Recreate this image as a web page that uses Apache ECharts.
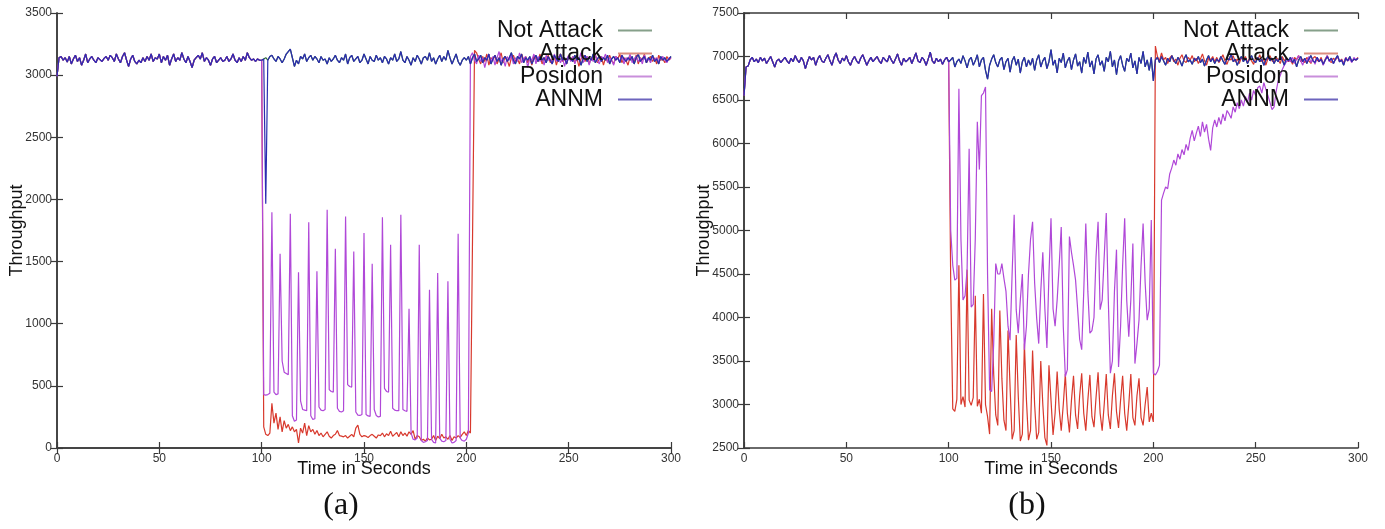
<!DOCTYPE html>
<html>
<head>
<meta charset="utf-8">
<script src="https://cdn.jsdelivr.net/npm/echarts@6/dist/echarts.min.js"></script>
<style>
  html, body { margin: 0; padding: 0; background: #ffffff; }
  #chart { width: 1385px; height: 529px; }
</style>
</head>
<body>
<div id="chart"></div>
<script>
// Throughput over time (one sample per second, t = 0..300)
const seriesNames = ['Not Attack', 'Attack', 'Posidon', 'ANNM'];
const xRange = { min: 0, max: 300, step: 50 };
const yRangeA = { min: 0, max: 3500, step: 500 };
const yRangeB = { min: 2500, max: 7500, step: 500 };
const captions = ['(a)', '(b)'];

// ---- panel (a) ----
// normal traffic, t = 0..300
const notAttackA = [
  2990,3140,3150,3120,3140,3105,3150,3090,3130,3160,3110,3140,3080,3120,3170,3100,3130,3150,3120,3100,
  3140,3125,3110,3135,3150,3120,3160,3140,3110,3170,3130,3100,3150,3180,3120,3070,3130,3160,3110,3090,
  3120,3100,3140,3110,3150,3120,3170,3110,3140,3130,3170,3100,3150,3120,3160,3080,3130,3170,3110,3140,
  3120,3180,3130,3100,3150,3110,3060,3120,3140,3160,3130,3180,3110,3140,3120,3080,3130,3150,3100,3120,
  3140,3110,3120,3150,3110,3130,3170,3120,3100,3140,3110,3150,3120,3180,3140,3120,3130,3110,3130,3120,
  3120,3130,3140,3120,3150,3160,3130,3110,3150,3130,3100,3130,3170,3190,3210,3140,3070,3120,3090,3150,
  3130,3170,3110,3140,3160,3120,3150,3130,3100,3150,3120,3130,3090,3140,3110,3130,3160,3120,3100,3140,
  3120,3170,3090,3140,3160,3110,3130,3150,3100,3120,3170,3130,3090,3150,3120,3110,3160,3120,3140,3100,
  3150,3130,3090,3140,3120,3170,3110,3130,3190,3120,3100,3150,3120,3080,3140,3110,3160,3130,3090,3140,
  3150,3120,3180,3110,3140,3090,3130,3160,3110,3150,3120,3200,3140,3090,3130,3170,3110,3080,3120,3140,
  3120,3150,3090,3140,3170,3110,3130,3160,3100,3140,3120,3170,3090,3130,3160,3110,3140,3080,3130,3150,
  3110,3140,3180,3120,3090,3150,3130,3170,3100,3140,3120,3150,3090,3130,3160,3110,3150,3120,3140,3100,
  3150,3120,3090,3160,3130,3110,3170,3120,3140,3090,3150,3130,3110,3160,3120,3140,3080,3130,3160,3110,
  3140,3120,3170,3100,3130,3150,3110,3140,3120,3160,3090,3130,3150,3120,3140,3100,3160,3130,3110,3140,
  3120,3150,3090,3140,3170,3110,3130,3150,3100,3140,3120,3160,3110,3130,3090,3150,3120,3140,3110,3130,
  3150
];
// attack traffic from t = 101
const attackA = [
  170,110,100,120,360,200,280,150,250,130,220,160,190,140,170,130,150,40,160,120,
  200,100,180,130,150,110,140,100,120,90,110,130,95,80,100,110,140,100,95,90,
  100,80,95,110,90,160,185,110,90,100,95,85,100,110,95,80,105,100,120,90,
  115,100,135,95,110,125,90,130,100,120,95,130,110,140,70,100,90,60,70,55,
  80,65,70,100,60,95,75,110,80,90,70,100,60,90,80,100,85,110,130,100,
  140,120,1650,
  3200,3180,3130,3090,3150,3110,3170,3080,3140,3120,3160,3090,3130,3180,3100,3150,3120,3070,3140,3160,
  3110,3130,3090,3170,3120,3150,3100,3140,3080,3160,3130,3110,3170,3090,3140,3120,3160,3100,3130,3150,
  3080,3140,3170,3110,3130,3090,3160,3120,3150,3100,3140,3070,3130,3160,3110,3150,3090,3140,3120,3170,
  3100,3130,3150,3080,3140,3110,3160,3120,3090,3150,3130,3170,3100,3140,3120,3080,3150,3130,3110,3160,
  3090,3140,3120,3170,3100,3130,3150,3110,3140,3090,3160,3120,3130,3100,3150,3120,3140
];
// Posidon defence from t = 101
const posidonA = [
  430,425,430,440,1897,450,430,435,1563,700,610,600,590,1884,260,215,225,1415,380,310,
  305,300,1817,260,230,235,1423,330,305,300,310,1916,470,455,450,1603,320,295,290,300,
  1862,510,495,490,1581,290,265,262,270,1729,270,258,255,1483,310,262,250,255,1857,480,
  455,450,1635,320,305,300,300,1876,310,300,295,1121,120,70,65,80,1635,60,45,50,
  60,1274,70,45,40,1408,80,55,50,60,1341,70,40,45,60,1723,80,60,55,70,
  120,
  3150,3180,3120,3090,3160,3110,3140,3060,3130,3170,3100,3150,3080,3140,3190,3110,3130,3070,3150,3120,
  3160,3090,3140,3110,3180,3100,3130,3150,3060,3140,3120,3170,3090,3150,3110,3140,3080,3160,3120,3130,
  3090,3170,3110,3150,3100,3140,3070,3130,3160,3110,3150,3090,3140,3120,3180,3100,3130,3150,3080,3140,
  3110,3160,3120,3090,3150,3130,3170,3100,3140,3120,3080,3150,3130,3110,3160,3090,3140,3120,3170,3100,
  3130,3150,3110,3140,3090,3160,3120,3130,3100,3150,3120,3140,3110,3130,3150,3120,3100,3140,3130
];
// ANNM: brief dip at t = 102
const annmA = [1965];

// ---- panel (b) ----
const notAttackB = [
  6550,6880,6890,6960,6990,6940,6970,6930,6990,6950,6980,6920,6960,7000,6940,6880,6950,6970,6930,6960,
  6990,6950,6920,6980,6940,7010,6960,6930,6990,6950,6860,6940,7000,6960,6990,6900,6970,7010,6950,6930,
  6980,7020,6950,6900,6990,7040,6960,6920,6980,6950,7010,6940,6900,6960,7000,6950,6920,6980,7020,6960,
  6900,6950,6990,6940,6970,7000,6950,6920,6990,6960,6940,7010,6960,6920,6970,7030,6950,6900,6980,6940,
  6960,6990,6920,6980,7040,6950,6930,6990,6960,6900,6970,7050,6950,6920,6980,6940,6970,6910,6960,6990,
  6940,6960,6990,6880,6940,6970,6920,7010,6950,6870,6960,6990,6900,6950,7020,6880,6960,6990,6840,6740,
  6900,6970,7020,6930,6880,6960,6990,6850,6940,6980,6820,6950,7000,6900,6970,6810,6940,6990,6880,6960,
  6900,6980,6840,6960,7020,6880,6950,6990,6860,6940,7080,6900,6960,6810,6980,6930,7040,6870,6950,6990,
  6850,6960,7030,6890,6940,6810,6990,6920,7050,6880,6950,6800,6970,7020,6900,6950,6830,6990,6940,7060,
  6880,6960,6790,6950,7010,6900,6830,6980,6940,7040,6870,6950,6800,6990,6920,7060,6880,6960,6840,6990,
  6720,6960,6990,6930,7000,6950,6900,6980,6940,7010,6960,6920,6990,6950,6890,6970,7020,6940,6960,6910,
  6980,6950,7000,6930,6970,6890,6960,7010,6940,6980,6920,6970,6940,7000,6950,6910,6980,6960,7030,6940,
  6970,6900,6960,7000,6940,6980,6920,6970,7010,6950,6930,6990,6940,6970,6900,6960,7000,6950,6980,6920,
  6970,6940,7010,6960,6900,6980,6950,6990,6930,6970,6880,6960,7000,6940,6980,6920,6970,7010,6950,6930,
  6990,6940,6970,6910,6960,7000,6950,6980,6920,6970,7010,6940,6960,6900,6980,6950,7000,6940,6970,6960,
  6980
];
// attack traffic from t = 101
const attackB = [
  4400,2950,2920,3060,4600,3000,3090,2970,4550,3050,2990,3080,4250,2980,3060,2900,4270,3000,2860,2660,
  4100,3350,2880,2760,4080,3300,2820,2700,3850,3200,2600,2700,3800,3100,2580,2660,3700,3050,2590,2700,
  3620,3000,2600,2680,3500,3000,2620,2530,3450,3050,2650,2900,3380,2950,2700,3000,3350,2900,2680,3050,
  3330,2880,2720,3100,3360,2900,2700,3050,3340,2860,2740,3080,3370,2900,2700,3000,3350,2880,2720,3100,
  3360,2920,2730,3050,3330,2900,2700,3000,3350,2850,2760,3100,3300,2850,2760,3000,3200,2800,2900,2800,
  7120,7000,6950,7040,6960,6990,6920,6980,7010,6940,6970,6900,6980,7020,6950,6930,6990,6960,7010,6940,
  6980,6920,6970,7030,6950,6900,6980,6960,7000,6940,6990,6930,6970,7020,6950,6910,6980,6960,7010,6940,
  6970,6920,6990,6960,7000,6930,6980,6950,6910,6990,6960,7020,6940,6970,6900,6980,7010,6950,6930,6990,
  6960,6920,7000,6950,6980,6940,6970,6910,6990,6960,7010,6940,6970,6930,6990,6950,6920,6980,7000,6960,
  6940,6990,6910,6970,7010,6950,6930,6980,6960,7000,6940,6970,6920,6990,6950,6980,6940,6970,6960,6990
];
// Posidon defence from t = 101, slow recovery after t = 204
const posidonB = [
  5000,4600,4430,4450,6630,4900,4200,4250,4550,5940,4120,4150,4900,6250,5700,6550,6580,6650,4500,3170,
  3150,3700,4620,4500,4500,4620,4450,4300,3900,3740,4500,5180,4090,3820,4200,4500,3630,3900,4500,4900,
  5100,4400,3990,3700,4300,4750,4100,3650,4500,5140,4100,3900,4200,4600,5040,3900,3320,3400,4930,4750,
  4600,4430,4100,3750,3630,4300,5080,4300,3820,3850,4000,4700,5100,4090,4200,4700,5200,4200,3360,3500,
  4300,4780,3430,3900,4600,5140,4200,3780,4200,4850,3470,3700,3970,4600,5080,4400,3970,4100,5120,3360,
  3340,3380,3450,
  5350,5430,5500,5480,5650,5720,5810,5750,5880,5820,5930,5870,5990,5920,6060,6150,6030,6120,6200,6080,
  6250,6130,6220,6050,5920,6180,6270,6190,6300,6220,6340,6260,6380,6340,6290,6420,6360,6470,6400,6500,
  6430,6540,6470,6580,6500,6610,6550,6640,6660,6580,6700,6620,6550,6470,6390,6420,6600,6720,6780,6850,
  6900,6940,6960,
  6940,6990,6920,6970,7010,6950,6900,6980,6940,7000,6930,6970,6910,6990,6950,6970,6900,6960,7010,6940,
  6980,6920,6970,7000,6940,6960,6910,6990,6950,6970,6930,6990,6960,6980
];
const annmB = [];

// replace a baseline with a run of values starting at time `from`
function compose(base, from, run) {
  return base.map((v, t) => {
    const k = t - from;
    return [t, (k >= 0 && k < run.length) ? run[k] : v];
  });
}

const lineColors = {
  'Not Attack': '#2f6b3c',
  'Attack': '#d8392d',
  'Posidon': '#b048d8',
  'ANNM': '#2b2bb0'
};
const legendColors = {
  'Not Attack': '#86a08a',
  'Attack': '#dc8d80',
  'Posidon': '#c98fdb',
  'ANNM': '#6d64bd'
};

const panels = [
  { base: notAttackA, attack: attackA, posidon: posidonA, annm: annmA, annmFrom: 102 },
  { base: notAttackB, attack: attackB, posidon: posidonB, annm: annmB, annmFrom: 0 }
];

const series = [];
panels.forEach((p, i) => {
  const data = {
    'Not Attack': p.base.map((v, t) => [t, v]),
    'Attack': compose(p.base, 101, p.attack),
    'Posidon': compose(p.base, 101, p.posidon),
    'ANNM': compose(p.base, p.annmFrom, p.annm)
  };
  seriesNames.forEach(name => {
    series.push({
      name: name,
      type: 'line',
      xAxisIndex: i * 2,
      yAxisIndex: i * 2,
      data: data[name],
      showSymbol: false,
      symbol: 'none',
      animation: false,
      color: lineColors[name],
      lineStyle: { width: 1.2, color: lineColors[name] }
    });
  });
});

const FONT = 'Liberation Sans, Arial, sans-serif';
const axisLine = { show: true, lineStyle: { color: '#3a3a3a', width: 1.5 } };
const tick = { show: true, inside: true, length: 6, lineStyle: { color: '#3a3a3a', width: 1.2 } };
const plain = v => String(v);

function xAxes(grid) {
  return [
    {
      gridIndex: grid, type: 'value', position: 'bottom',
      min: xRange.min, max: xRange.max, interval: xRange.step,
      axisLine: axisLine, axisTick: tick, splitLine: { show: false },
      axisLabel: { fontSize: 12, color: '#333', fontFamily: FONT, margin: 5, formatter: plain },
      name: 'Time in Seconds', nameLocation: 'middle', nameGap: 12, nameMoveOverlap: false,
      nameTextStyle: { fontSize: 18, color: '#111', fontFamily: FONT, verticalAlign: 'top' }
    },
    {
      gridIndex: grid, type: 'value', position: 'top',
      min: xRange.min, max: xRange.max, interval: xRange.step,
      axisLine: axisLine, axisTick: tick, axisLabel: { show: false }, splitLine: { show: false }
    }
  ];
}
function yAxes(grid, r) {
  return [
    {
      gridIndex: grid, type: 'value', position: 'left',
      min: r.min, max: r.max, interval: r.step,
      axisLine: axisLine, axisTick: tick, splitLine: { show: false },
      axisLabel: { fontSize: 12, color: '#333', fontFamily: FONT, margin: 5, formatter: plain },
      name: 'Throughput', nameLocation: 'middle', nameGap: 40, nameRotate: 90, nameMoveOverlap: false,
      nameTextStyle: { fontSize: 18, color: '#111', fontFamily: FONT, verticalAlign: 'middle' }
    },
    {
      gridIndex: grid, type: 'value', position: 'right',
      min: r.min, max: r.max, interval: r.step,
      axisLine: axisLine, axisTick: tick, axisLabel: { show: false }, splitLine: { show: false }
    }
  ];
}

function legendAt(right) {
  return {
    right: right, top: 19, orient: 'vertical', align: 'right',
    padding: 0, itemGap: 0, itemWidth: 34, itemHeight: 2, icon: 'rect',
    selectedMode: false,
    textStyle: { fontSize: 23, lineHeight: 21, color: '#111', fontFamily: FONT, padding: [0, 10, 0, 0] },
    data: seriesNames.map(n => ({ name: n, itemStyle: { color: legendColors[n] } }))
  };
}

const option = {
  backgroundColor: '#ffffff',
  animation: false,
  grid: [
    { left: 57, top: 13, width: 614, height: 435 },
    { left: 744, top: 13, width: 614, height: 435 }
  ],
  xAxis: [...xAxes(0), ...xAxes(1)],
  yAxis: [...yAxes(0, yRangeA), ...yAxes(1, yRangeB)],
  legend: [legendAt(1385 - 652), legendAt(1385 - 1338)],
  graphic: [
    { type: 'text', x: 341, y: 506, style: { text: captions[0], align: 'center', verticalAlign: 'middle', font: '32px "Liberation Serif", serif', fill: '#111' } },
    { type: 'text', x: 1027, y: 506, style: { text: captions[1], align: 'center', verticalAlign: 'middle', font: '32px "Liberation Serif", serif', fill: '#111' } }
  ],
  series: series
};

const chart = echarts.init(document.getElementById('chart'), null, { renderer: 'canvas' });
chart.setOption(option);
</script>
</body>
</html>
